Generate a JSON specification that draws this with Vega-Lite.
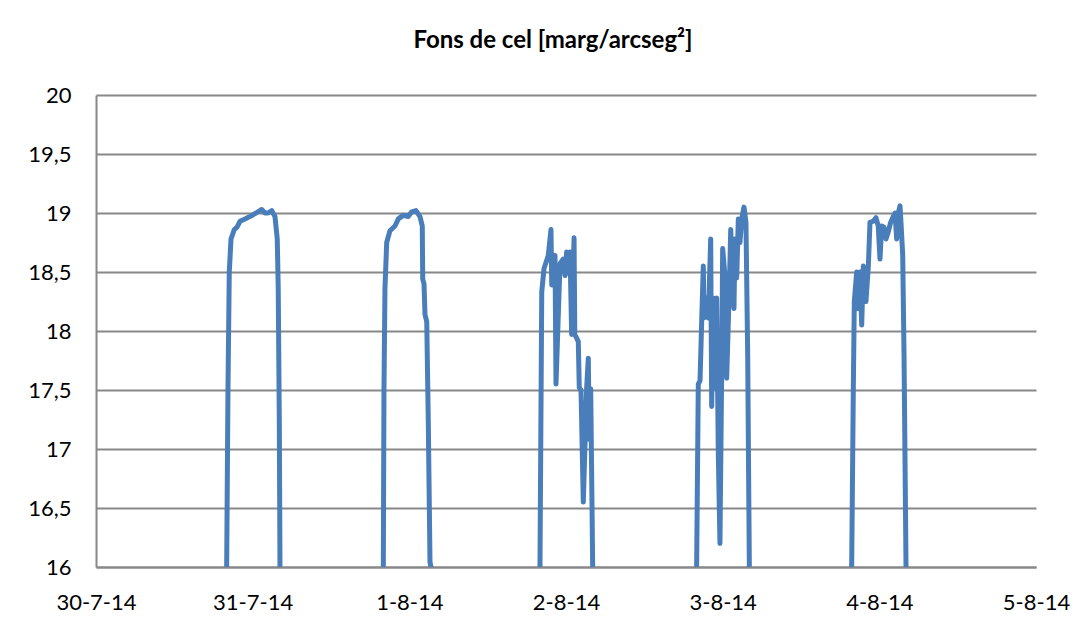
{
  "$schema": "https://vega.github.io/schema/vega-lite/v6.json",
  "autosize": "none",
  "width": 940,
  "height": 472,
  "padding": {"left": 96, "top": 95, "right": 56, "bottom": 62},
  "background": "white",
  "title": {
    "text": "Fons de cel [marg/arcseg²]",
    "font": "Lato",
    "fontSize": 24,
    "fontWeight": "bold",
    "color": "#000000",
    "anchor": "middle",
    "frame": "group",
    "dx": -13,
    "offset": 31
  },
  "data": {
    "values": [
      {"t": "2014-07-30T19:53:00Z", "v": 12},
      {"t": "2014-07-30T20:01:00Z", "v": 16.0},
      {"t": "2014-07-30T20:13:00Z", "v": 17.5},
      {"t": "2014-07-30T20:25:00Z", "v": 18.5},
      {"t": "2014-07-30T20:41:00Z", "v": 18.78},
      {"t": "2014-07-30T21:11:00Z", "v": 18.86},
      {"t": "2014-07-30T21:36:00Z", "v": 18.88},
      {"t": "2014-07-30T22:04:00Z", "v": 18.93},
      {"t": "2014-07-30T22:49:00Z", "v": 18.95},
      {"t": "2014-07-30T23:35:00Z", "v": 18.97},
      {"t": "2014-07-31T00:31:00Z", "v": 19.0},
      {"t": "2014-07-31T01:23:00Z", "v": 19.03},
      {"t": "2014-07-31T01:53:00Z", "v": 19.0},
      {"t": "2014-07-31T02:21:00Z", "v": 19.0},
      {"t": "2014-07-31T02:55:00Z", "v": 19.02},
      {"t": "2014-07-31T03:25:00Z", "v": 18.97},
      {"t": "2014-07-31T03:46:00Z", "v": 18.78},
      {"t": "2014-07-31T03:55:00Z", "v": 18.36},
      {"t": "2014-07-31T04:05:00Z", "v": 17.23},
      {"t": "2014-07-31T04:11:00Z", "v": 16.0},
      {"t": "2014-07-31T04:18:00Z", "v": 12},

      {"t": "2014-07-31T19:53:00Z", "v": 12},
      {"t": "2014-07-31T20:01:00Z", "v": 16.0},
      {"t": "2014-07-31T20:07:00Z", "v": 17.52},
      {"t": "2014-07-31T20:16:00Z", "v": 18.36},
      {"t": "2014-07-31T20:32:00Z", "v": 18.75},
      {"t": "2014-07-31T21:02:00Z", "v": 18.85},
      {"t": "2014-07-31T21:48:00Z", "v": 18.89},
      {"t": "2014-07-31T22:19:00Z", "v": 18.95},
      {"t": "2014-07-31T23:04:00Z", "v": 18.98},
      {"t": "2014-07-31T23:50:00Z", "v": 18.97},
      {"t": "2014-08-01T00:22:00Z", "v": 19.01},
      {"t": "2014-08-01T01:01:00Z", "v": 19.02},
      {"t": "2014-08-01T01:38:00Z", "v": 18.97},
      {"t": "2014-08-01T01:59:00Z", "v": 18.89},
      {"t": "2014-08-01T02:03:00Z", "v": 18.44},
      {"t": "2014-08-01T02:15:00Z", "v": 18.4},
      {"t": "2014-08-01T02:24:00Z", "v": 18.14},
      {"t": "2014-08-01T02:40:00Z", "v": 18.08},
      {"t": "2014-08-01T02:54:00Z", "v": 17.25},
      {"t": "2014-08-01T03:10:00Z", "v": 16.04},
      {"t": "2014-08-01T03:24:00Z", "v": 15.98},
      {"t": "2014-08-01T03:31:00Z", "v": 12},

      {"t": "2014-08-01T19:54:00Z", "v": 12},
      {"t": "2014-08-01T20:01:00Z", "v": 16.03},
      {"t": "2014-08-01T20:17:00Z", "v": 18.33},
      {"t": "2014-08-01T20:38:00Z", "v": 18.53},
      {"t": "2014-08-01T21:17:00Z", "v": 18.64},
      {"t": "2014-08-01T21:42:00Z", "v": 18.86},
      {"t": "2014-08-01T21:49:00Z", "v": 18.39},
      {"t": "2014-08-01T22:03:00Z", "v": 18.61},
      {"t": "2014-08-01T22:19:00Z", "v": 18.64},
      {"t": "2014-08-01T22:28:00Z", "v": 17.55},
      {"t": "2014-08-01T23:05:00Z", "v": 18.57},
      {"t": "2014-08-01T23:35:00Z", "v": 18.61},
      {"t": "2014-08-01T23:51:00Z", "v": 18.47},
      {"t": "2014-08-02T00:06:00Z", "v": 18.67},
      {"t": "2014-08-02T00:21:00Z", "v": 18.49},
      {"t": "2014-08-02T00:37:00Z", "v": 18.67},
      {"t": "2014-08-02T00:52:00Z", "v": 17.97},
      {"t": "2014-08-02T01:14:00Z", "v": 18.79},
      {"t": "2014-08-02T01:21:00Z", "v": 17.97},
      {"t": "2014-08-02T01:38:00Z", "v": 17.94},
      {"t": "2014-08-02T01:53:00Z", "v": 17.91},
      {"t": "2014-08-02T02:02:00Z", "v": 17.52},
      {"t": "2014-08-02T02:18:00Z", "v": 17.5},
      {"t": "2014-08-02T02:39:00Z", "v": 16.55},
      {"t": "2014-08-02T03:10:00Z", "v": 17.52},
      {"t": "2014-08-02T03:25:00Z", "v": 17.77},
      {"t": "2014-08-02T03:34:00Z", "v": 17.08},
      {"t": "2014-08-02T03:47:00Z", "v": 17.51},
      {"t": "2014-08-02T04:05:00Z", "v": 16.03},
      {"t": "2014-08-02T04:13:00Z", "v": 12},

      {"t": "2014-08-02T19:55:00Z", "v": 12},
      {"t": "2014-08-02T20:01:00Z", "v": 16.03},
      {"t": "2014-08-02T20:16:00Z", "v": 17.55},
      {"t": "2014-08-02T20:32:00Z", "v": 17.58},
      {"t": "2014-08-02T20:47:00Z", "v": 18.08},
      {"t": "2014-08-02T21:02:00Z", "v": 18.55},
      {"t": "2014-08-02T21:08:00Z", "v": 18.11},
      {"t": "2014-08-02T21:33:00Z", "v": 18.28},
      {"t": "2014-08-02T21:48:00Z", "v": 18.11},
      {"t": "2014-08-02T22:10:00Z", "v": 18.78},
      {"t": "2014-08-02T22:19:00Z", "v": 17.36},
      {"t": "2014-08-02T22:34:00Z", "v": 18.28},
      {"t": "2014-08-02T22:49:00Z", "v": 17.52},
      {"t": "2014-08-02T23:05:00Z", "v": 18.28},
      {"t": "2014-08-02T23:20:00Z", "v": 16.96},
      {"t": "2014-08-02T23:35:00Z", "v": 16.2},
      {"t": "2014-08-02T23:51:00Z", "v": 17.66},
      {"t": "2014-08-03T00:00:00Z", "v": 18.7},
      {"t": "2014-08-03T00:21:00Z", "v": 18.47},
      {"t": "2014-08-03T00:37:00Z", "v": 17.6},
      {"t": "2014-08-03T01:01:00Z", "v": 18.36},
      {"t": "2014-08-03T01:14:00Z", "v": 18.86},
      {"t": "2014-08-03T01:32:00Z", "v": 18.39},
      {"t": "2014-08-03T01:44:00Z", "v": 18.19},
      {"t": "2014-08-03T01:53:00Z", "v": 18.78},
      {"t": "2014-08-03T02:09:00Z", "v": 18.45},
      {"t": "2014-08-03T02:24:00Z", "v": 18.95},
      {"t": "2014-08-03T02:39:00Z", "v": 18.75},
      {"t": "2014-08-03T02:55:00Z", "v": 18.95},
      {"t": "2014-08-03T03:16:00Z", "v": 19.05},
      {"t": "2014-08-03T03:34:00Z", "v": 18.92},
      {"t": "2014-08-03T03:50:00Z", "v": 17.8},
      {"t": "2014-08-03T04:05:00Z", "v": 16.03},
      {"t": "2014-08-03T04:11:00Z", "v": 12},

      {"t": "2014-08-03T19:40:00Z", "v": 12},
      {"t": "2014-08-03T19:46:00Z", "v": 16.03},
      {"t": "2014-08-03T20:01:00Z", "v": 17.52},
      {"t": "2014-08-03T20:10:00Z", "v": 18.25},
      {"t": "2014-08-03T20:32:00Z", "v": 18.5},
      {"t": "2014-08-03T20:47:00Z", "v": 18.19},
      {"t": "2014-08-03T21:02:00Z", "v": 18.5},
      {"t": "2014-08-03T21:18:00Z", "v": 18.05},
      {"t": "2014-08-03T21:33:00Z", "v": 18.55},
      {"t": "2014-08-03T21:57:00Z", "v": 18.25},
      {"t": "2014-08-03T22:19:00Z", "v": 18.55},
      {"t": "2014-08-03T22:34:00Z", "v": 18.92},
      {"t": "2014-08-03T23:04:00Z", "v": 18.93},
      {"t": "2014-08-03T23:29:00Z", "v": 18.96},
      {"t": "2014-08-03T23:50:00Z", "v": 18.89},
      {"t": "2014-08-04T00:06:00Z", "v": 18.61},
      {"t": "2014-08-04T00:22:00Z", "v": 18.89},
      {"t": "2014-08-04T00:43:00Z", "v": 18.88},
      {"t": "2014-08-04T01:01:00Z", "v": 18.78},
      {"t": "2014-08-04T01:22:00Z", "v": 18.84},
      {"t": "2014-08-04T01:44:00Z", "v": 18.92},
      {"t": "2014-08-04T02:08:00Z", "v": 18.97},
      {"t": "2014-08-04T02:24:00Z", "v": 19.0},
      {"t": "2014-08-04T02:40:00Z", "v": 18.78},
      {"t": "2014-08-04T02:54:00Z", "v": 19.0},
      {"t": "2014-08-04T03:10:00Z", "v": 19.06},
      {"t": "2014-08-04T03:19:00Z", "v": 18.92},
      {"t": "2014-08-04T03:35:00Z", "v": 18.64},
      {"t": "2014-08-04T03:47:00Z", "v": 17.8},
      {"t": "2014-08-04T04:05:00Z", "v": 16.03},
      {"t": "2014-08-04T04:11:00Z", "v": 12}
    ]
  },
  "mark": {
    "type": "line",
    "color": "#4A7EBB",
    "strokeWidth": 5,
    "strokeJoin": "round",
    "clip": true
  },
  "encoding": {
    "x": {
      "field": "t",
      "type": "temporal",
      "scale": {
        "type": "utc",
        "domain": [
          {"year": 2014, "month": 7, "date": 30, "utc": true},
          {"year": 2014, "month": 8, "date": 5, "utc": true}
        ],
        "nice": false
      },
      "axis": {
        "values": [
          {"year": 2014, "month": 7, "date": 30, "utc": true},
          {"year": 2014, "month": 7, "date": 31, "utc": true},
          {"year": 2014, "month": 8, "date": 1, "utc": true},
          {"year": 2014, "month": 8, "date": 2, "utc": true},
          {"year": 2014, "month": 8, "date": 3, "utc": true},
          {"year": 2014, "month": 8, "date": 4, "utc": true},
          {"year": 2014, "month": 8, "date": 5, "utc": true}
        ],
        "format": "%-d-%-m-%y",
        "title": null,
        "grid": false,
        "ticks": false,
        "tickSize": 0,
        "labelPadding": 25,
        "labelFlush": false,
        "labelOverlap": false,
        "labelFont": "Lato",
        "labelFontSize": 22,
        "labelColor": "#000000",
        "domainColor": "#888888",
        "domainWidth": 2
      }
    },
    "y": {
      "field": "v",
      "type": "quantitative",
      "scale": {"domain": [16, 20], "nice": false, "zero": false},
      "axis": {
        "values": [16, 16.5, 17, 17.5, 18, 18.5, 19, 19.5, 20],
        "labelExpr": "replace(format(datum.value, '~f'), '.', ',')",
        "title": null,
        "grid": true,
        "gridColor": "#888888",
        "gridWidth": 2,
        "ticks": false,
        "tickSize": 0,
        "labelPadding": 25,
        "labelFont": "Lato",
        "labelFontSize": 22,
        "labelColor": "#000000",
        "domainColor": "#888888",
        "domainWidth": 2
      }
    }
  },
  "config": {"view": {"stroke": null}}
}
